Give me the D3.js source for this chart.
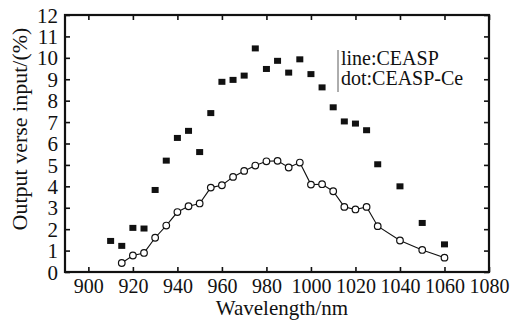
<!DOCTYPE html>
<html>
<head>
<meta charset="utf-8">
<script src="https://cdn.jsdelivr.net/npm/d3@7"></script>
<style>
  body { margin: 0; background: #fff; }
  text { font-family: "Liberation Serif", "DejaVu Serif", serif; fill: #111; }
</style>
</head>
<body>
<svg id="chart" width="512" height="322"></svg>
<script>
// wavelengths (nm) and output/input (%)
var dotWl   = [910, 915, 920, 925, 930, 935, 940, 945, 950, 955, 960, 965, 970, 975,
               980, 985, 990, 995, 1000, 1005, 1010, 1015, 1020, 1025, 1030, 1040, 1050, 1060];
var dotVal  = [1.45, 1.22, 2.06, 2.03, 3.83, 5.2, 6.26, 6.59, 5.6, 7.42, 8.88, 8.97, 9.17, 10.44,
               9.48, 9.86, 9.31, 9.93, 9.24, 8.62, 7.69, 7.03, 6.93, 6.62, 5.03, 4.0, 2.29, 1.29];

var lineWl  = [915, 920, 925, 930, 935, 940, 945, 950, 955, 960, 965, 970, 975,
               980, 985, 990, 995, 1000, 1005, 1010, 1015, 1020, 1025, 1030, 1040, 1050, 1060];
var lineVal = [0.42, 0.77, 0.89, 1.6, 2.17, 2.8, 3.07, 3.2, 3.94, 4.05, 4.44, 4.72, 4.97,
               5.17, 5.19, 4.88, 5.11, 4.08, 4.1, 3.77, 3.04, 2.92, 3.04, 2.14, 1.47, 1.03, 0.67];

var xTicks = [900, 920, 940, 960, 980, 1000, 1020, 1040, 1060, 1080];
var yTicks = [0, 1, 2, 3, 4, 5, 6, 7, 8, 9, 10, 11, 12];
var legendLines = ["line:CEASP", "dot:CEASP-Ce"];

var squares = dotWl.map(function(w, i){ return {x: w, y: dotVal[i]}; });
var circles = lineWl.map(function(w, i){ return {x: w, y: lineVal[i]}; });

var pLeft = 65, pRight = 489, pTop = 15, pBottom = 272;
var svg = d3.select("#chart");

var x = d3.scaleLinear().domain([889.5, 1080]).range([pLeft, pRight]);
var y = d3.scaleLinear().domain([0, 12]).range([pBottom, pTop]);

function styleAxis(g){
    g.select(".domain").remove();
    g.selectAll(".tick line").attr("stroke", "#111").attr("stroke-width", 1.6);
}

// bottom axis, ticks inward
var gx = svg.append("g")
    .attr("transform", "translate(0," + pBottom + ")")
    .call(d3.axisBottom(x).tickValues(xTicks).tickFormat(d3.format("d"))
        .tickSizeInner(-5).tickSizeOuter(0));
styleAxis(gx);
gx.selectAll(".tick text")
    .attr("font-size", 20).attr("dy", null).attr("y", 19)
    .attr("transform", "scale(1,1.1)");

// top axis ticks (no labels)
var gt = svg.append("g")
    .attr("transform", "translate(0," + pTop + ")")
    .call(d3.axisTop(x).tickValues(xTicks).tickSizeInner(-5).tickSizeOuter(0).tickFormat(""));
styleAxis(gt);

// left axis
var gy = svg.append("g")
    .attr("transform", "translate(" + pLeft + ",0)")
    .call(d3.axisLeft(y).tickValues(yTicks).tickFormat(d3.format("d"))
        .tickSizeInner(-5).tickSizeOuter(0));
styleAxis(gy);
gy.selectAll(".tick text")
    .attr("font-size", 21).attr("x", -7).attr("dy", "0.34em");

// right axis ticks
var gr = svg.append("g")
    .attr("transform", "translate(" + pRight + ",0)")
    .call(d3.axisRight(y).tickValues(yTicks).tickSizeInner(-5).tickSizeOuter(0).tickFormat(""));
styleAxis(gr);

// frame
svg.append("rect")
    .attr("x", pLeft).attr("y", pTop)
    .attr("width", pRight - pLeft).attr("height", pBottom - pTop)
    .attr("fill", "none").attr("stroke", "#111").attr("stroke-width", 2.2);

// line series with open circles
var line = d3.line()
    .x(function(d){ return x(d.x); })
    .y(function(d){ return y(d.y); });

svg.append("path")
    .datum(circles)
    .attr("d", line)
    .attr("fill", "none")
    .attr("stroke", "#111")
    .attr("stroke-width", 1.1);

svg.selectAll(".circ")
    .data(circles)
    .enter().append("circle")
    .attr("class", "circ")
    .attr("cx", function(d){ return x(d.x); })
    .attr("cy", function(d){ return y(d.y); })
    .attr("r", 3.3)
    .attr("fill", "#fff")
    .attr("stroke", "#111")
    .attr("stroke-width", 1.2);

// filled squares
svg.selectAll(".sq")
    .data(squares)
    .enter().append("rect")
    .attr("class", "sq")
    .attr("x", function(d){ return x(d.x) - 3.5; })
    .attr("y", function(d){ return y(d.y) - 3; })
    .attr("width", 7)
    .attr("height", 6)
    .attr("fill", "#111");

// legend
svg.append("line")
    .attr("x1", 338).attr("x2", 338)
    .attr("y1", 50).attr("y2", 92)
    .attr("stroke", "#333").attr("stroke-width", 0.8);

svg.selectAll(".leg")
    .data(legendLines)
    .enter().append("text")
    .attr("class", "leg")
    .attr("font-size", 20)
    .attr("transform", function(d, i){ return "translate(341," + (65 + i * 20) + ") scale(1,1.1)"; })
    .text(function(d){ return d; });

// axis titles
svg.append("text")
    .attr("x", 282).attr("y", 315)
    .attr("text-anchor", "middle")
    .attr("font-size", 21)
    .text("Wavelength/nm");

svg.append("text")
    .attr("transform", "translate(27,129) rotate(-90)")
    .attr("text-anchor", "middle")
    .attr("font-size", 22)
    .text("Output verse input/(%)");
</script>
</body>
</html>
